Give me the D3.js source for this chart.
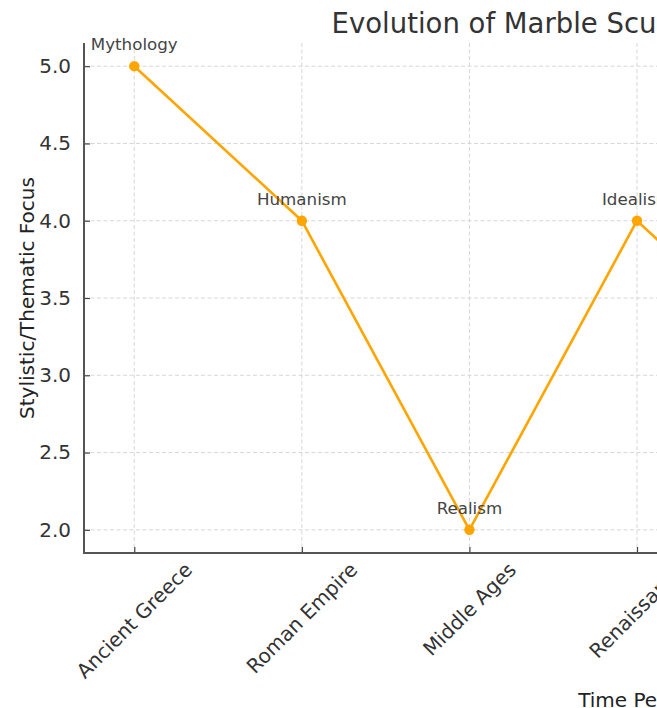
<!DOCTYPE html>
<html>
<head>
<meta charset="utf-8">
<script src="https://cdn.jsdelivr.net/npm/d3@7"></script>
<style>
  html, body { margin: 0; padding: 0; background: #fff; overflow: hidden; }
  svg { display: block; font-family: "DejaVu Sans", sans-serif; }
</style>
</head>
<body>
<script>
const categories = ["Ancient Greece", "Roman Empire", "Middle Ages", "Renaissance", "Baroque", "Neoclassicism", "Modern"];
const values = [5, 4, 2, 4, 3, 4, 2];
const themes = ["Mythology", "Humanism", "Realism", "Idealism", "Emotion", "Classicism", "Abstraction"];
const yTicks = [2.0, 2.5, 3.0, 3.5, 4.0, 4.5, 5.0];
const titleText = "Evolution of Marble Sculpture Over the Ages";
const xLabel = "Time Period";
const yLabel = "Stylistic/Thematic Focus";

const W = 657, H = 708;
const axL = 84, axR = 1190, axT = 43, axB = 553;
const lineColor = "#FFA500";

const svg = d3.select("body").append("svg").attr("width", W).attr("height", H);

const x = d3.scalePoint().domain(categories).range([axL, axR]).padding(0.3);
const y = d3.scaleLinear().domain([1.85, 5.15]).range([axB, axT]);

// grid
const grid = svg.append("g");
grid.selectAll("line.h").data(yTicks).join("line")
  .attr("x1", axL).attr("x2", axR)
  .attr("y1", d => y(d)).attr("y2", d => y(d))
  .attr("stroke", "#d3d3d3").attr("stroke-width", 0.9).attr("stroke-dasharray", "4,2.5");
grid.selectAll("line.v").data(categories).join("line")
  .attr("y1", axT).attr("y2", axB)
  .attr("x1", d => x(d)).attr("x2", d => x(d))
  .attr("stroke", "#d3d3d3").attr("stroke-width", 0.9).attr("stroke-dasharray", "4,2.5");

// y axis
const yAxis = d3.axisLeft(y).tickValues(yTicks).tickFormat(d3.format(".1f")).tickSizeInner(-6).tickSizeOuter(0).tickPadding(13);
const gy = svg.append("g").attr("transform", `translate(${axL},0)`).call(yAxis);
gy.select(".domain").remove();
gy.selectAll(".tick line").attr("stroke", "#444").attr("stroke-width", 1.2);
gy.selectAll(".tick text").attr("fill", "#333").style("font-size", "20px").style("font-family", "DejaVu Sans");

// x axis
const xAxis = d3.axisBottom(x).tickSizeInner(-6).tickSizeOuter(0).tickFormat("");
const gx = svg.append("g").attr("transform", `translate(0,${axB})`).call(xAxis);
gx.select(".domain").remove();
gx.selectAll(".tick line").attr("stroke", "#444").attr("stroke-width", 1.2);

// x tick labels rotated 45, centered
const labelTop = axB + 5;
const xl = svg.append("g");
xl.selectAll("text").data(categories).join("text")
  .text(d => d)
  .attr("fill", "#333").style("font-size", "20px")
  .attr("text-anchor", "middle").attr("dominant-baseline", "central")
  .each(function(d) {
    const w = this.getComputedTextLength();
    const h = 23;
    const cy = labelTop + (w + h) * Math.SQRT1_2 / 2;
    d3.select(this).attr("transform", `translate(${x(d)},${cy}) rotate(-45)`);
  });

// spines
svg.append("line").attr("x1", axL).attr("x2", axL).attr("y1", axT).attr("y2", axB + 1)
  .attr("stroke", "#555").attr("stroke-width", 2);
svg.append("line").attr("x1", axL - 1).attr("x2", axR).attr("y1", axB).attr("y2", axB)
  .attr("stroke", "#555").attr("stroke-width", 2);

// line + markers
const line = d3.line().x((d, i) => x(categories[i])).y(d => y(d));
svg.append("path").datum(values).attr("d", line)
  .attr("fill", "none").attr("stroke", lineColor).attr("stroke-width", 2.6).attr("stroke-linejoin", "round");
svg.append("g").selectAll("circle").data(values).join("circle")
  .attr("cx", (d, i) => x(categories[i])).attr("cy", d => y(d)).attr("r", 5.2)
  .attr("fill", lineColor);

// annotations
svg.append("g").selectAll("text").data(values).join("text")
  .attr("x", (d, i) => x(categories[i])).attr("y", d => y(d) - 16)
  .attr("text-anchor", "middle").attr("fill", "#444").style("font-size", "16.7px")
  .text((d, i) => themes[i]);

// title
svg.append("text").attr("x", (axL + axR) / 2).attr("y", 33)
  .attr("text-anchor", "middle").attr("fill", "#333").style("font-size", "27.5px")
  .text(titleText);

// axis labels
svg.append("text").attr("x", (axL + axR) / 2).attr("y", 707)
  .attr("text-anchor", "middle").attr("fill", "#222").style("font-size", "20px")
  .text(xLabel);
svg.append("text").attr("transform", `translate(34,${(axT + axB) / 2}) rotate(-90)`)
  .attr("text-anchor", "middle").attr("fill", "#222").style("font-size", "20px")
  .text(yLabel);
</script>
</body>
</html>
